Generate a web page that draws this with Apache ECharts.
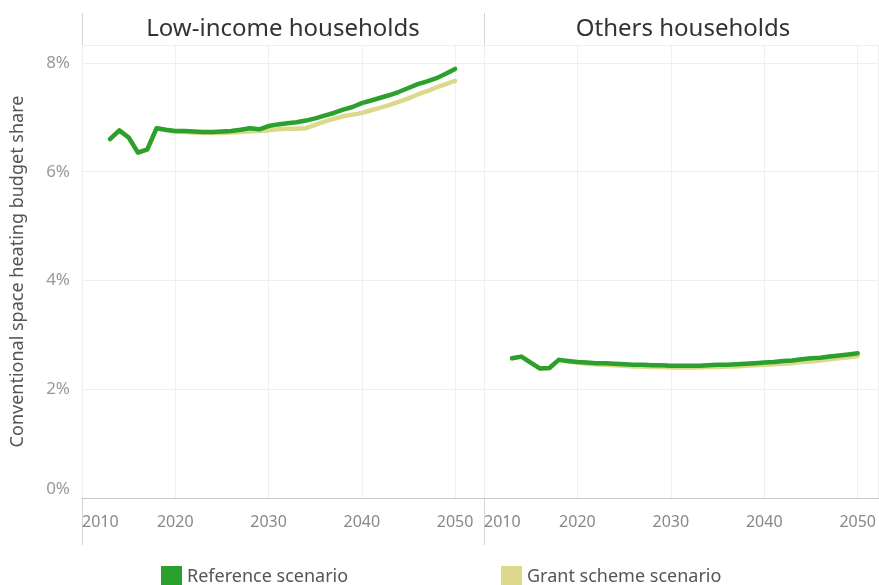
<!DOCTYPE html>
<html><head><meta charset="utf-8">
<script src="https://cdn.jsdelivr.net/npm/echarts@6/dist/echarts.min.js"></script>
<style>html,body{margin:0;padding:0;background:#fff}#c{width:879px;height:585px}</style>
</head><body><div id="c"></div>
<script>
var years = [2013,2014,2015,2016,2017,2018,2019,2020,2021,2022,2023,2024,2025,2026,2027,2028,2029,2030,2031,2032,2033,2034,2035,2036,2037,2038,2039,2040,2041,2042,2043,2044,2045,2046,2047,2048,2049,2050];
var panels = ['Low-income households', 'Others households'];
var seriesNames = ['Reference scenario', 'Grant scheme scenario'];
var xTicks = [2010, 2020, 2030, 2040, 2050];
var yTicks = [0, 2, 4, 6, 8];
var lowRef = [6.60,6.76,6.63,6.35,6.41,6.80,6.77,6.75,6.75,6.74,6.73,6.73,6.74,6.75,6.77,6.80,6.78,6.84,6.87,6.89,6.91,6.94,6.98,7.03,7.08,7.14,7.19,7.26,7.31,7.36,7.41,7.47,7.54,7.61,7.66,7.72,7.80,7.89];
var lowGrant = [6.60,6.76,6.63,6.35,6.41,6.80,6.76,6.74,6.73,6.72,6.71,6.71,6.71,6.72,6.73,6.74,6.75,6.76,6.78,6.79,6.79,6.80,6.86,6.92,6.97,7.02,7.05,7.08,7.13,7.18,7.23,7.29,7.35,7.42,7.48,7.55,7.61,7.67];
var othRef = [2.57,2.60,2.49,2.38,2.39,2.54,2.52,2.50,2.49,2.48,2.48,2.47,2.46,2.45,2.45,2.44,2.44,2.43,2.43,2.43,2.43,2.44,2.45,2.45,2.46,2.47,2.48,2.49,2.50,2.52,2.53,2.55,2.57,2.58,2.60,2.62,2.64,2.66];
var othGrant = [2.57,2.60,2.49,2.38,2.39,2.54,2.51,2.49,2.47,2.46,2.45,2.44,2.43,2.42,2.42,2.41,2.41,2.40,2.40,2.40,2.40,2.41,2.41,2.42,2.42,2.43,2.44,2.45,2.46,2.47,2.48,2.50,2.51,2.53,2.55,2.57,2.59,2.61];

var GREEN = '#2ca02c', KHAKI = '#dbd98c';
function pairs(v){ return years.map(function(y,i){ return [y, v[i]]; }); }
var FONT = "'Noto Sans', sans-serif";
var xMax = [2053.1, 2052.25];

var chart = echarts.init(document.getElementById('c'), null, {renderer:'canvas'});
function xAxis(idx){
  return {type:'value', gridIndex:idx, min:xTicks[0], max:xMax[idx], interval:10,
    axisLine:{show:true, lineStyle:{color:'#c8c8c8', width:1}}, axisTick:{show:false},
    axisLabel:{color:'#888', fontSize:16, fontFamily:FONT, margin:16, showMaxLabel:false, alignMinLabel:'left',
      formatter:function(v){ return xTicks.indexOf(v)>=0 ? String(v) : ''; }},
    splitLine:{show:true, lineStyle:{color:'#efefef', width:1}}};
}
function yAxis(idx){
  return {type:'value', gridIndex:idx, min:yTicks[0], max:8.33, interval:2,
    axisLine:{show:false}, axisTick:{show:false},
    name: idx===0 ? 'Conventional space heating budget share' : '',
    nameLocation:'middle', nameGap:55, nameTextStyle:{color:'#555', fontSize:18, fontFamily:FONT},
    axisLabel:{show: idx===0, color:'#999', fontSize:17, fontFamily:FONT, margin:12, showMaxLabel:false,
      verticalAlignMinLabel:'bottom',
      formatter:function(v){ return yTicks.indexOf(v)>=0 ? v+'%' : ''; }},
    splitLine:{show:true, lineStyle:{color:'#efefef', width:1}}};
}
function line(name, idx, data, color){
  return {name:name, type:'line', xAxisIndex:idx, yAxisIndex:idx, data:pairs(data), showSymbol:false, symbol:'none',
    lineStyle:{color:color, width:4.5, cap:'round', join:'round'}, itemStyle:{color:color}, animation:false, z: name===seriesNames[0]?3:2};
}
chart.setOption({
  animation:false,
  grid:[{left:82, top:45, width:402, height:453}, {left:484, top:45, width:395, height:453}],
  xAxis:[xAxis(0), xAxis(1)],
  yAxis:[yAxis(0), yAxis(1)],
  legend:[
    {data:[seriesNames[0]], left:156, top:561, icon:'rect', itemWidth:21, itemHeight:21, itemGap:10,
      textStyle:{color:'#555', fontSize:18, fontFamily:FONT}},
    {data:[seriesNames[1]], left:496, top:561, icon:'rect', itemWidth:21, itemHeight:21, itemGap:10,
      textStyle:{color:'#555', fontSize:18, fontFamily:FONT}}
  ],
  series:[
    line(seriesNames[1], 0, lowGrant, KHAKI),
    line(seriesNames[0], 0, lowRef, GREEN),
    line(seriesNames[1], 1, othGrant, KHAKI),
    line(seriesNames[0], 1, othRef, GREEN)
  ],
  graphic:[
    {type:'line', shape:{x1:82.5,y1:13,x2:82.5,y2:545}, style:{stroke:'#d4d4d4', lineWidth:1}, silent:true},
    {type:'line', shape:{x1:484.5,y1:13,x2:484.5,y2:545}, style:{stroke:'#d4d4d4', lineWidth:1}, silent:true},
    {type:'line', shape:{x1:82,y1:45.5,x2:879,y2:45.5}, style:{stroke:'#d4d4d4', lineWidth:1}, silent:true},
    {type:'text', style:{text:panels[0], x:283, y:29, textAlign:'center', textVerticalAlign:'middle', fill:'#333', font:"24px 'Noto Sans', sans-serif"}, silent:true},
    {type:'text', style:{text:panels[1], x:683, y:29, textAlign:'center', textVerticalAlign:'middle', fill:'#333', font:"24px 'Noto Sans', sans-serif"}, silent:true}
  ]
});
</script></body></html>
